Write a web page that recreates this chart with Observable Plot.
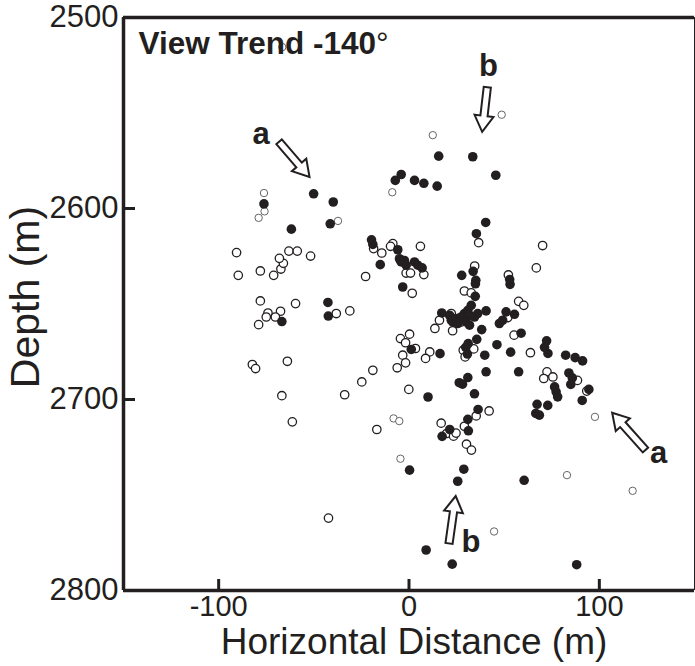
<!DOCTYPE html>
<html>
<head>
<meta charset="utf-8">
<script src="https://cdn.jsdelivr.net/npm/d3@7"></script>
<script src="https://cdn.jsdelivr.net/npm/@observablehq/plot@0.6"></script>
<style>
  body { margin: 0; background: #fff; }
</style>
</head>
<body>
<div id="chart"></div>
<script>
// ---------------- data ----------------
const chartTitle = "View Trend -140°";
const xTitle = "Horizontal Distance (m)";
const yTitle = "Depth (m)";
const xTicks = [-100, 0, 100];
const yTicks = [2500, 2600, 2700, 2800];
const yInnerTicks = [2600, 2700];

// filled circles: [horizontal distance, depth]
const filledEvents = [
  [-76.2, 2597.6], [-50.1, 2592.3], [-39.8, 2596.6], [-7.2, 2585.3], [-4.1, 2582.2],
  [2.9, 2585.3], [7.8, 2586.8], [14.8, 2588.3], [15.6, 2572.6], [33.5, 2572.9],
  [45.6, 2582.6], [40.3, 2607.3], [35.4, 2613.2], [-41.4, 2608.0], [-61.8, 2610.8],
  [-19.7, 2616.4], [-19.0, 2618.8], [-5.9, 2621.6], [-5.0, 2626.3], [-2.4, 2627.2],
  [-1.5, 2629.7], [-4.1, 2628.0], [2.9, 2628.0], [4.6, 2629.7], [6.9, 2631.1],
  [-15.1, 2629.4], [-3.3, 2641.1], [-42.6, 2649.2], [-42.4, 2656.3], [-66.8, 2659.2],
  [27.7, 2635.0], [33.7, 2632.9], [35.1, 2637.6], [34.9, 2639.4], [34.8, 2646.0],
  [52.9, 2637.2], [53.1, 2639.7], [17.2, 2654.7], [21.3, 2655.9], [22.2, 2658.5],
  [24.8, 2657.6], [27.4, 2656.8], [29.1, 2655.0], [30.9, 2653.3], [32.7, 2650.7],
  [31.8, 2655.9], [34.4, 2656.8], [36.1, 2655.0], [40.5, 2653.6], [30.0, 2659.4],
  [31.8, 2661.1], [23.0, 2659.4], [25.6, 2660.2], [51.0, 2654.1], [55.4, 2655.4],
  [49.2, 2658.5], [47.5, 2660.2], [38.2, 2663.4], [58.9, 2665.3], [35.6, 2668.5],
  [31.1, 2670.7], [29.8, 2672.7], [30.7, 2676.2], [39.8, 2676.8], [46.2, 2671.3],
  [53.4, 2675.2], [16.3, 2676.0], [1.2, 2673.8], [72.3, 2669.3], [71.2, 2672.7],
  [73.0, 2675.9], [82.3, 2676.8], [87.3, 2678.1], [91.2, 2679.8], [40.5, 2685.5],
  [57.6, 2685.5], [30.9, 2688.5], [26.4, 2691.2], [28.1, 2692.0], [34.4, 2697.0],
  [10.0, 2698.7], [84.0, 2686.1], [85.8, 2688.7], [85.0, 2692.1], [76.5, 2693.4],
  [77.3, 2696.0], [78.1, 2698.6], [94.5, 2694.7], [91.0, 2700.5], [67.3, 2702.5],
  [72.9, 2703.1], [66.6, 2707.3], [68.5, 2708.2], [36.3, 2705.2], [30.9, 2710.4],
  [31.2, 2716.4], [21.4, 2715.7], [17.4, 2719.3], [0.3, 2737.0], [28.8, 2736.5],
  [25.6, 2742.8], [60.5, 2742.3], [9.0, 2778.8], [22.7, 2786.2], [88.1, 2786.5]
];

// open circles (dark outline)
const openEvents = [
  [-90.6, 2623.1], [-89.7, 2635.0], [-78.1, 2632.7], [-71.1, 2635.0], [-67.3, 2631.7],
  [-66.0, 2628.7], [-68.1, 2626.1], [-63.1, 2622.3], [-58.7, 2622.3], [-51.7, 2624.9],
  [-22.8, 2635.6], [-18.6, 2621.0], [-14.3, 2623.3], [-8.5, 2618.4], [-9.7, 2619.8],
  [6.0, 2619.8], [-1.5, 2633.8], [0.8, 2633.8], [7.8, 2634.6], [1.7, 2644.4],
  [-78.1, 2648.4], [-74.1, 2654.7], [-67.5, 2653.8], [-70.2, 2656.8], [-75.0, 2656.8],
  [-79.0, 2660.8], [-59.6, 2649.8], [-38.2, 2655.0], [-31.1, 2653.6], [-82.3, 2681.7],
  [-80.6, 2683.8], [-63.9, 2680.0], [-66.8, 2698.0], [-33.8, 2697.5], [-24.8, 2690.8],
  [-19.0, 2684.7], [-6.2, 2683.4], [-61.3, 2711.7], [-16.9, 2715.7], [-42.3, 2762.1],
  [0.3, 2665.8], [-4.5, 2668.1], [-1.8, 2670.3], [3.4, 2673.3], [-3.3, 2676.8],
  [-1.8, 2680.8], [10.9, 2675.1], [8.7, 2678.5], [-0.1, 2694.7], [36.6, 2617.9],
  [70.2, 2619.4], [66.9, 2631.1], [34.5, 2630.1], [52.2, 2634.8], [29.1, 2643.2],
  [32.7, 2644.2], [57.6, 2648.6], [60.3, 2650.7], [51.9, 2657.1], [16.0, 2658.5],
  [13.6, 2662.8], [22.9, 2664.0], [22.2, 2655.0], [27.4, 2659.4], [55.2, 2666.3],
  [28.5, 2674.2], [29.5, 2677.7], [34.0, 2673.5], [63.8, 2675.5], [72.5, 2685.5],
  [70.8, 2689.0], [75.6, 2688.2], [88.5, 2690.0], [93.4, 2695.6], [42.1, 2706.0],
  [35.3, 2708.6], [29.1, 2714.0], [16.9, 2712.4], [19.8, 2717.8], [23.4, 2719.2],
  [24.7, 2717.6], [30.2, 2723.4], [32.8, 2726.5]
];

// open circles (light outline)
const faintEvents = [
  [-66.6, 2515.5], [12.5, 2561.6], [48.7, 2550.9], [-76.2, 2591.9], [-75.9, 2601.5],
  [-79.0, 2604.9], [-37.3, 2606.5], [-8.8, 2591.5], [-8.1, 2709.9], [-5.1, 2711.3],
  [-4.5, 2731.0], [97.7, 2709.1], [83.0, 2739.6], [117.5, 2747.8], [44.7, 2769.1]
];

// annotation letters and arrows (tail -> tip), in data units
const noteText = ["a", "b", "a", "b"];
const noteX = [-77.7, 41.7, 131.2, 32.5];
const noteDepth = [2566.0, 2530.4, 2733.0, 2780.1];
const arrowTailX = [-68.0, 41.4, 124.5, 21.3];
const arrowTailDepth = [2565.3, 2536.8, 2726.7, 2775.6];
const arrowTipX = [-52.0, 38.7, 107.0, 24.8];
const arrowTipDepth = [2583.8, 2560.1, 2707.2, 2750.8];

// ---------------- chart ----------------
const ink = "#231f20";
const font = "'Liberation Sans', Arial, Helvetica, sans-serif";
const toRows = arr => arr.map(([x, depth]) => ({x, depth}));
const notes = noteText.map((t, i) => ({t, x: noteX[i], depth: noteDepth[i]}));

const plot = Plot.plot({
  width: 695,
  height: 666,
  marginLeft: 123,
  marginRight: 1,
  marginTop: 17,
  marginBottom: 76,
  style: {fontFamily: font, color: ink, background: "#fff", overflow: "visible"},
  x: {domain: [-150, 150]},
  y: {domain: [2500, 2800], reverse: true},
  marks: [
    Plot.dot(toRows(faintEvents), {x: "x", y: "depth", r: 3.7, fill: "#fff", stroke: "#555", strokeWidth: 0.9}),
    Plot.dot(toRows(openEvents), {x: "x", y: "depth", r: 4.2, fill: "#fff", stroke: ink, strokeWidth: 1.3}),
    Plot.dot(toRows(filledEvents), {x: "x", y: "depth", r: 4.8, fill: ink, stroke: "none"}),
    // frame
    Plot.ruleX([150], {stroke: ink, strokeWidth: 1}),
    Plot.ruleX([-150], {stroke: ink, strokeWidth: 3.5}),
    Plot.ruleY([2500], {stroke: ink, strokeWidth: 3.5}),
    Plot.ruleY([2800], {stroke: ink, strokeWidth: 3.5}),
    // inward ticks
    Plot.axisX(xTicks, {anchor: "bottom", tickSize: -11, text: null, stroke: ink, strokeWidth: 3, label: null}),
    Plot.axisY(yInnerTicks, {anchor: "left", tickSize: -12, text: null, stroke: ink, strokeWidth: 3, label: null}),
    // tick labels
    Plot.axisX(xTicks, {anchor: "bottom", tickSize: 0, tickPadding: 5, fontSize: 29, fill: ink, label: null, tickFormat: d => String(d)}),
    Plot.axisY(yTicks, {anchor: "left", tickSize: 0, tickPadding: 5, fontSize: 31, fill: ink, label: null, tickFormat: d => String(d)}),
    // axis titles
    Plot.text([xTitle], {frameAnchor: "bottom", text: d => d, dx: 5, dy: 63, textAnchor: "middle", lineAnchor: "bottom", fontSize: 37, fill: ink}),
    Plot.text([yTitle], {frameAnchor: "left", text: d => d, dx: -85, dy: -7, rotate: -90, textAnchor: "middle", lineAnchor: "bottom", fontSize: 41, fill: ink}),
    // title
    Plot.text([chartTitle], {frameAnchor: "top-left", text: d => d, dx: 15, dy: 36, textAnchor: "start", lineAnchor: "bottom", fontSize: 31.5, fontWeight: "bold", fill: ink}),
    // annotation letters
    Plot.text(notes, {x: "x", y: "depth", text: "t", lineAnchor: "bottom", fontSize: 31, fontWeight: "bold", fill: ink})
  ]
});

// hollow block arrows, positioned through the plot's scales
const sx = plot.scale("x"), sy = plot.scale("y");
const svg = d3.select(plot);
arrowTailX.forEach((_, i) => {
  const tx = sx.apply(arrowTailX[i]), ty = sy.apply(arrowTailDepth[i]);
  const px = sx.apply(arrowTipX[i]), py = sy.apply(arrowTipDepth[i]);
  const len = Math.hypot(px - tx, py - ty);
  const ux = (px - tx) / len, uy = (py - ty) / len;
  const nx = -uy, ny = ux;
  const headLen = 16, headHalf = 9.5, shaftHalf = 3.6;
  const bx = px - ux * headLen, by = py - uy * headLen;
  const pts = [
    [tx + nx * shaftHalf, ty + ny * shaftHalf],
    [bx + nx * shaftHalf, by + ny * shaftHalf],
    [bx + nx * headHalf, by + ny * headHalf],
    [px, py],
    [bx - nx * headHalf, by - ny * headHalf],
    [bx - nx * shaftHalf, by - ny * shaftHalf],
    [tx - nx * shaftHalf, ty - ny * shaftHalf]
  ];
  svg.append("path")
    .attr("d", "M" + pts.map(p => p.join(",")).join("L") + "Z")
    .attr("fill", "#fff")
    .attr("stroke", ink)
    .attr("stroke-width", 2)
    .attr("stroke-linejoin", "miter");
});

// degree sign drawn in regular weight, like the original
svg.selectAll("text").each(function() {
  const el = d3.select(this);
  if (el.text() === chartTitle) {
    el.text(null);
    el.append("tspan").text(chartTitle.slice(0, -1));
    el.append("tspan").attr("font-weight", "normal").text("°");
  }
});

document.getElementById("chart").appendChild(plot);
</script>
</body>
</html>
